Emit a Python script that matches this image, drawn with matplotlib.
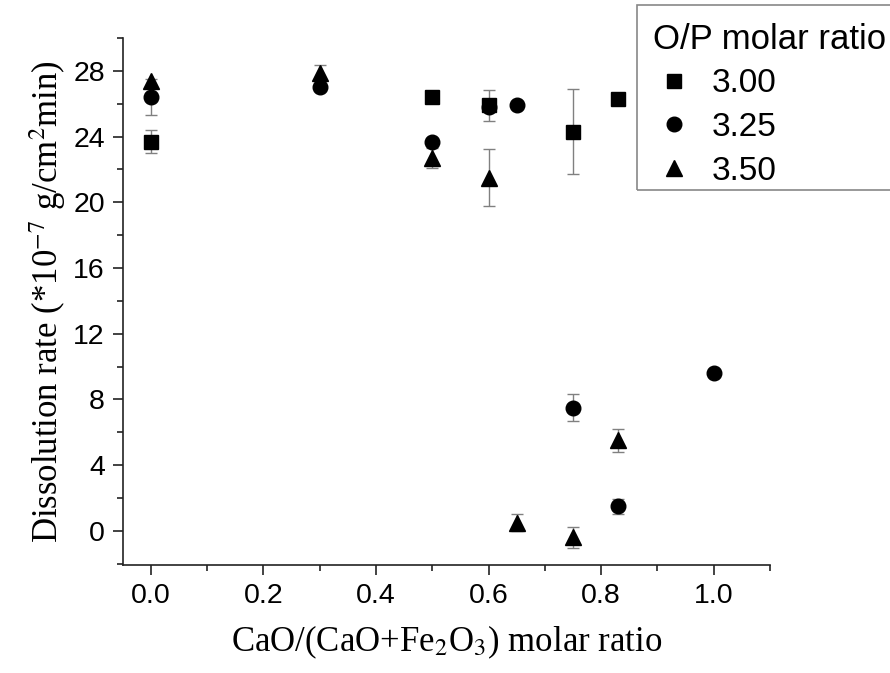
import matplotlib.pyplot as plt
from matplotlib.patches import Rectangle
from matplotlib.ticker import MultipleLocator

plt.rcParams['font.family'] = 'Liberation Sans'
plt.rcParams['mathtext.fontset'] = 'stix'

# O/P = 3.00 (cuadrados)
x_300 = [0.0, 0.5, 0.6, 0.75, 0.83]
y_300 = [23.7, 26.4, 25.9, 24.3, 26.3]
e_300 = [0.7, 0.0, 0.95, 2.6, 0.0]

# O/P = 3.25 (circulos)
x_325 = [0.0, 0.3, 0.5, 0.6, 0.65, 0.75, 0.83, 1.0]
y_325 = [26.4, 27.0, 23.7, 25.8, 25.9, 7.5, 1.5, 9.6]
e_325 = [1.1, 0.0, 0.0, 0.0, 0.0, 0.8, 0.45, 0.0]

# O/P = 3.50 (triangulos)
x_350 = [0.0, 0.3, 0.5, 0.6, 0.65, 0.75, 0.83]
y_350 = [27.4, 27.9, 22.7, 21.5, 0.5, -0.4, 5.5]
e_350 = [0.0, 0.45, 0.6, 1.75, 0.5, 0.65, 0.7]

series = [
    (x_300, y_300, e_300, 's', 10, '3.00'),
    (x_325, y_325, e_325, 'o', 10.5, '3.25'),
    (x_350, y_350, e_350, '^', 12, '3.50'),
]

fig = plt.figure(figsize=(8.9, 6.73), dpi=100)
ax = fig.add_axes([0.138, 0.160, 0.727, 0.7835])

handles = []
for xs, ys, es, m, ms, lab in series:
    # solo las barras de error visibles
    xe = [x for x, e in zip(xs, es) if e > 0]
    ye = [y for y, e in zip(ys, es) if e > 0]
    ee = [e for e in es if e > 0]
    ax.errorbar(xe, ye, yerr=ee, fmt='none', ecolor='#808080', elinewidth=1,
                capsize=4, capthick=1, zorder=2)
    h, = ax.plot(xs, ys, linestyle='none', marker=m, markersize=ms,
                 color='black', zorder=3, label=lab)
    handles.append(h)

ax.set_xlim(-0.05, 1.1)
ax.set_ylim(-2.1, 30)
ax.xaxis.set_minor_locator(MultipleLocator(0.1))
ax.yaxis.set_minor_locator(MultipleLocator(2))
ax.set_xticks([0.0, 0.2, 0.4, 0.6, 0.8, 1.0])
ax.set_xticklabels(['0.0', '0.2', '0.4', '0.6', '0.8', '1.0'])
ax.set_yticks([0, 4, 8, 12, 16, 20, 24, 28])

for s in ['top', 'right']:
    ax.spines[s].set_visible(False)
for s in ['left', 'bottom']:
    ax.spines[s].set_linewidth(1.2)
    ax.spines[s].set_color('#222222')

ax.tick_params(which='major', length=7, width=1.2, labelsize=20.5, color='#222222', pad=6)
ax.tick_params(which='minor', length=4, width=1.2, color='#222222')

ax.set_xlabel('CaO/(CaO+Fe$_2$O$_3$) molar ratio', fontsize=25,
              family='Liberation Serif', labelpad=10)
ax.set_ylabel('Dissolution rate (*10$^{-7}$ g/cm$^2$min)', fontsize=25,
              family='Liberation Serif', labelpad=4)

# leyenda sin marco; el marco va aparte (sale por la derecha de la figura)
leg = fig.legend(handles=handles, title='O/P molar ratio', loc='lower left',
                 bbox_to_anchor=(637 / 890, 1 - 190 / 673, 265 / 890, 0.1),
                 mode='expand', borderaxespad=0,
                 fontsize=24, title_fontsize=25, frameon=False,
                 markerscale=1.0, handlelength=2.0,
                 handletextpad=0.15, labelspacing=0.38, borderpad=0.1)
fig.patches.append(Rectangle((637 / 890, 1 - 190 / 673), 0.4, 185 / 673,
                             transform=fig.transFigure, fill=False,
                             edgecolor='#888888', linewidth=1.2))

fig.savefig('out.png', dpi=100)
